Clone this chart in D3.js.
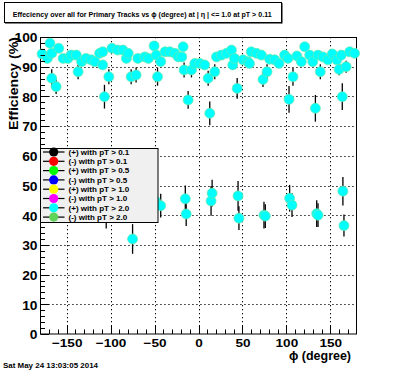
<!DOCTYPE html>
<html>
<head>
<meta charset="utf-8">
<script src="https://cdn.jsdelivr.net/npm/d3@7/dist/d3.min.js"></script>
<style>
html,body{margin:0;padding:0;background:#fff;}
svg{display:block;font-family:"Liberation Sans",Arial,sans-serif;font-weight:bold;}
</style>
</head>
<body>
<svg id="c" width="396" height="372"></svg>
<script>
// ---- data ----
const titleText = "Effeciency over all for Primary Tracks vs \u03d5 (degree) at |   \u03b7 | <= 1.0 at pT > 0.11";
const dateText = "Sat May 24 13:03:05 2014";
const xTitle = "\u03d5 (degree)";
const yTitle = "Efficiency (%)";
const xTicks = [-150, -100, -50, 0, 50, 100, 150];
const yTicks = [0, 10, 20, 30, 40, 50, 60, 70, 80, 90, 100];
const legendLabels = ["(+) with pT > 0.1", "(-) with pT > 0.1", "(+) with pT > 0.5", "(-) with pT > 0.5",
                      "(+) with pT > 1.0", "(-) with pT > 1.0", "(+) with pT > 2.0", "(-) with pT > 2.0"];
const legendColors = ["#000000", "#ff0000", "#00ff00", "#0000ff", "#ffff00", "#ff00ff", "#00ffff", "#5fd35a"];

// phi (degree), efficiency (%), error (%)
const phiValues = [
  -178, -172, -169, -167, -167, -162, -159, -154, -148.5, -145, -139, -137, -133, -128, -122, -118,
  -112.5, -109, -109, -107, -102, -98.5, -92, -86, -82, -80, -76.6, -71, -69, -61,
  -57, -50.5, -48, -46.6, -43, -38, -32.6, -27, -23, -19, -17.5, -16.4, -11.8, -8, -4.2, 1.5, 7, 11, 12.8,
  18.5, 20.5, 26, 32, 37.5, 39, 41, 44, 50.7, 56, 58, 60, 66, 71.6, 73.4, 78, 81, 86.7, 91.6, 98,
  101.8, 103, 107.5, 112, 117, 120.8, 126.5, 130, 133, 136, 138.6, 141.6, 147.3, 152.3, 157.5, 160,
  162.5, 163.6, 168, 172, 177.6,
  -165, -135, -105, -75, -49, -43, -15, -14, 14.3, 15.5, 45, 46, 74.5, 76, 103.7, 106.4, 134.5, 136,
  164.3, 165.5
];
const effValues = [
  94.3, 92.8, 97.9, 94.5, 86.1, 83.3, 96.2, 92.8, 92.8, 93.9, 93.9, 88.3, 91.7, 92.8, 92.3, 91.7,
  94.5, 95.0, 90.6, 79.9, 86.6, 96.2, 95.6, 95.6, 92.8, 94.5, 86.6, 87.2, 92.8, 93.3,
  92.8, 97.0, 93.9, 86.6, 91.7, 95.0, 95.0, 94.5, 93.3, 93.3, 96.7, 88.9, 78.8, 88.9, 91.1, 91.1, 90.6, 86.1, 74.3,
  88.3, 93.3, 93.9, 94.5, 95.6, 90.6, 92.8, 82.7, 92.3, 91.7, 91.1, 95.0, 94.5, 93.9, 85.7, 88.3, 92.5, 92.3, 91.1, 93.9,
  92.8, 79.0, 86.6, 93.6, 91.7, 96.7, 93.9, 91.7, 76.0, 93.9, 88.3, 93.3, 92.3, 94.3, 92.3, 89.1,
  93.9, 79.9, 90.0, 95.0, 94.5,
  43.0, 44.0, 40.5, 32.0, 44.8, 43.2, 45.5, 40.4, 44.8, 47.4, 46.5, 39.0, 40.0, 39.7, 45.7, 43.4, 40.5, 40.0,
  48.1, 36.5
];
const errValues = [
  1.2, 1.2, 1.0, 1.2, 3.0, 2.5, 1.0, 1.0, 1.0, 1.0, 1.0, 2.5, 1.5, 1.0, 1.0, 1.5,
  1.0, 1.0, 1.5, 4.0, 2.5, 1.0, 1.0, 1.0, 1.0, 1.0, 2.5, 2.5, 1.0, 1.0,
  1.0, 1.0, 1.0, 3.0, 1.5, 1.0, 1.0, 1.0, 1.0, 1.0, 1.0, 2.5, 3.0, 2.5, 1.5, 1.5, 1.5, 2.5, 4.0,
  2.5, 1.0, 1.0, 1.0, 1.0, 1.5, 1.0, 3.5, 1.0, 1.0, 1.5, 1.0, 1.0, 1.0, 2.5, 2.5, 1.0, 1.0, 1.5, 1.0,
  1.0, 4.5, 3.0, 1.0, 1.5, 1.0, 1.0, 1.5, 4.5, 1.0, 2.5, 1.0, 1.0, 1.0, 1.0, 2.0,
  1.0, 4.5, 2.0, 1.0, 1.0,
  4.5, 4.5, 5.0, 5.0, 4.0, 4.0, 4.5, 4.0, 5.0, 4.5, 5.0, 4.0, 4.5, 4.0, 4.5, 4.0, 4.5, 4.0,
  4.8, 3.7
];

// ---- layout ----
const svg = d3.select("#c");
const x = d3.scaleLinear().domain([-180, 180]).range([40.3, 356.7]);
const y = d3.scaleLinear().domain([0, 100]).range([334, 37]);

function stretch(sel, target) {
  sel.each(function() {
    const w = this.getComputedTextLength();
    const t = (typeof target === "function") ? target(w) : target;
    d3.select(this).attr("textLength", t).attr("lengthAdjust", "spacingAndGlyphs");
  });
}

// title box
svg.append("rect").attr("x", 4.5).attr("y", 2.5).attr("width", 277).attr("height", 20)
  .attr("fill", "#fff").attr("stroke", "#000").attr("stroke-width", 1);
svg.append("line").attr("x1", 5).attr("x2", 282).attr("y1", 23).attr("y2", 23).attr("stroke", "#000").attr("stroke-width", 1);
svg.append("line").attr("x1", 282).attr("x2", 282).attr("y1", 3).attr("y2", 23.5).attr("stroke", "#000").attr("stroke-width", 1);
svg.append("text").attr("x", 12.7).attr("y", 17.3).attr("font-size", 7.6).text(titleText)
  .call(stretch, 259);

// grid
const grid = svg.append("g").attr("stroke", "#000").attr("stroke-width", 1).attr("stroke-dasharray", "1.3,2.7");
grid.selectAll(".gx").data(xTicks).join("line")
  .attr("x1", d => Math.round(x(d)) + 0.5).attr("x2", d => Math.round(x(d)) + 0.5)
  .attr("y1", y(100)).attr("y2", y(0));
grid.selectAll(".gy").data(yTicks.filter(v => v > 0 && v < 100)).join("line")
  .attr("x1", x(-180)).attr("x2", x(180))
  .attr("y1", d => Math.round(y(d)) + 0.5).attr("y2", d => Math.round(y(d)) + 0.5);

// frame
svg.append("rect").attr("x", 40.5).attr("y", 37.5).attr("width", 316).attr("height", 296.5)
  .attr("fill", "none").attr("stroke", "#000").attr("stroke-width", 1);

// error bars and points
const idx = d3.range(phiValues.length);
svg.append("g").selectAll("line").data(idx).join("line")
  .attr("x1", i => x(phiValues[i])).attr("x2", i => x(phiValues[i]))
  .attr("y1", i => y(effValues[i] - errValues[i])).attr("y2", i => y(effValues[i] + errValues[i]))
  .attr("stroke", "#000").attr("stroke-width", 1.3);
svg.append("g").selectAll("circle").data(idx).join("circle")
  .attr("cx", i => x(phiValues[i])).attr("cy", i => y(effValues[i])).attr("r", 5)
  .attr("fill", "#00ffff").attr("stroke", "#6fe6a8").attr("stroke-width", 0.7);

// axes (ROOT style ticks inside)
const yAxis = d3.axisLeft(y).tickValues(yTicks).tickSize(0).tickFormat(d3.format("d"));
const xAxis = d3.axisBottom(x).tickValues(xTicks).tickSize(0).tickFormat(d3.format("d"));
const gy = svg.append("g").attr("transform", "translate(40.5,0)").call(yAxis);
gy.select(".domain").remove();
gy.selectAll("text").attr("x", -3).attr("dy", "0.4em").attr("font-size", 12).attr("font-weight", "bold")
  .attr("font-family", "'Liberation Sans',Arial,sans-serif").attr("fill", "#000")
  .call(stretch, w => w * 1.15);
const gx = svg.append("g").attr("transform", "translate(0,334)").call(xAxis);
gx.select(".domain").remove();
gx.selectAll("text").attr("y", 13).attr("dy", 0).attr("font-size", 11.5).attr("font-weight", "bold")
  .attr("font-family", "'Liberation Sans',Arial,sans-serif").attr("fill", "#000")
  .call(stretch, w => w * 1.18);

// tick marks
const tk = svg.append("g").attr("stroke", "#000").attr("stroke-width", 1);
const yMinor = d3.range(0, 101, 2);
tk.selectAll(".ty").data(yMinor).join("line")
  .attr("x1", 40.5).attr("x2", d => 40.5 + (d % 10 === 0 ? 8.5 : 4.5))
  .attr("y1", d => Math.round(y(d)) + 0.5).attr("y2", d => Math.round(y(d)) + 0.5);
const xMinor = d3.range(-170, 171, 10);
tk.selectAll(".tx").data(xMinor).join("line")
  .attr("x1", d => Math.round(x(d)) + 0.5).attr("x2", d => Math.round(x(d)) + 0.5)
  .attr("y1", 334).attr("y2", d => 334 - (d % 50 === 0 ? 9 : 4.5));

// axis titles
svg.append("text").attr("transform", "translate(17.5,37) rotate(-90)").attr("text-anchor", "end")
  .attr("font-size", 12).text(yTitle).call(stretch, 93);
svg.append("text").attr("x", 351).attr("y", 360).attr("text-anchor", "end")
  .attr("font-size", 12).text(xTitle).call(stretch, 62);

// date
svg.append("text").attr("x", 3).attr("y", 367.5).attr("font-size", 7.4).text(dateText).call(stretch, 95);

// legend
const lg = svg.append("g");
lg.append("rect").attr("x", 40.5).attr("y", 148.5).attr("width", 117.5).attr("height", 74)
  .attr("fill", "#f0f0f0").attr("stroke", "#000").attr("stroke-width", 1);
const rows = lg.selectAll(".row").data(legendLabels).join("g")
  .attr("transform", (d, i) => `translate(0,${152 + i * 9.3})`);
rows.append("line").attr("x1", 43).attr("x2", 64.5).attr("y1", 0).attr("y2", 0)
  .attr("stroke", "#000").attr("stroke-width", 1.2);
rows.append("circle").attr("cx", 53.7).attr("cy", 0).attr("r", 4.6)
  .attr("fill", (d, i) => legendColors[i]);
rows.append("text").attr("x", 68.5).attr("y", 2.7).attr("font-size", 7.2).text(d => d)
  .call(stretch, w => w * 1.12);
</script>
</body>
</html>
